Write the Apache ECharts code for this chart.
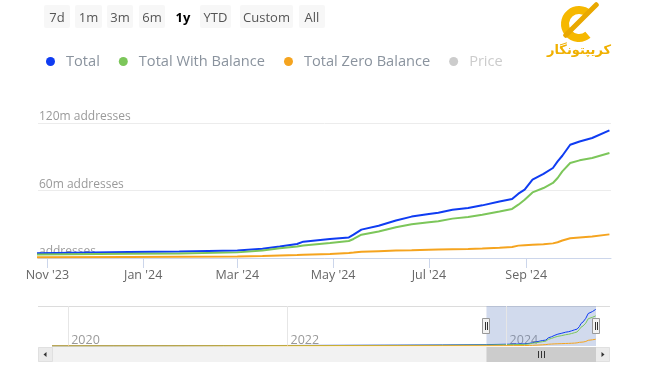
<!DOCTYPE html>
<html><head><meta charset="utf-8">
<script src="https://cdn.jsdelivr.net/npm/echarts@6/dist/echarts.min.js"></script>
<style>html,body{margin:0;padding:0;background:#fff}#c{width:650px;height:365px}</style>
</head><body><div id="c"></div>
<script>
// ---------- data ----------
const dates = [
  '2019-11-08','2020-06-01','2021-01-01','2021-06-01','2022-01-01','2022-06-01','2023-01-01','2023-06-01',
  '2023-10-25','2023-12-23','2024-01-24','2024-03-01','2024-03-17','2024-03-28','2024-04-08','2024-04-12',
  '2024-04-29','2024-05-11','2024-05-14','2024-05-19','2024-05-30','2024-06-10','2024-06-20','2024-07-01',
  '2024-07-07','2024-07-16','2024-07-26','2024-08-04','2024-08-15','2024-08-23','2024-08-27','2024-08-31',
  '2024-09-05','2024-09-12','2024-09-18','2024-09-21','2024-09-24','2024-09-29','2024-10-05','2024-10-13','2024-10-24'
];
const total = [
  0.3,0.5,0.8,1.1,1.6,2.1,2.7,3.3,
  4.3,5.3,5.8,6.7,8.3,10.3,12.4,14.5,
  16.9,18.3,20.7,25.2,28.7,33.4,36.8,39.1,
  40.3,42.9,44.4,46.8,50.3,52.4,57.2,60.7,
  69.6,74.7,80.0,85.9,90.9,100.7,103.6,106.7,113.4
];
const withBalance = [
  0.2,0.35,0.55,0.8,1.1,1.5,1.9,2.4,
  3.0,3.7,4.1,5.0,6.6,8.6,10.2,11.2,
  13.3,15.1,16.9,20.7,23.6,27.4,30.0,31.8,
  32.6,35.0,36.4,38.5,41.4,43.6,47.4,51.8,
  58.3,62.2,66.7,71.1,77.0,84.4,86.8,88.9,93.3
];
const zeroBalance = [
  0.1,0.12,0.15,0.2,0.3,0.4,0.5,0.6,
  0.7,0.9,1.1,1.4,1.8,2.2,2.6,2.8,
  3.6,4.4,4.8,5.5,6.1,6.6,6.9,7.3,
  7.5,7.8,8.1,8.5,9.1,9.8,11.0,11.4,
  11.8,12.3,13.0,14.0,15.5,17.6,18.3,19.2,21.0
];
const seriesNames = ['Total','Total With Balance','Total Zero Balance','Price'];
const xTickDates = ['2023-11-01','2024-01-01','2024-03-01','2024-05-01','2024-07-01','2024-09-01'];
const yTicks = [0,60,120];
const navYearTicks = ['2020-01-01','2022-01-01','2024-01-01'];
const rangeButtons = ['7d','1m','3m','6m','1y','YTD','Custom','All'];
const selectedRange = '1y';
const viewStart = '2023-10-26', viewEnd = '2024-10-25', navStart = '2019-11-08';

// ---------- helpers ----------
const ts = d => new Date(d + 'T00:00:00').getTime();
const pairs = arr => dates.map((d, i) => [ts(d), arr[i]]);
const MONTHS = ['Jan','Feb','Mar','Apr','May','Jun','Jul','Aug','Sep','Oct','Nov','Dec'];
const colors = {'Total':'#0f3cf2','Total With Balance':'#7cc65a','Total Zero Balance':'#f5a41f','Price':'#cccccc'};
const valuesByName = {'Total': total, 'Total With Balance': withBalance, 'Total Zero Balance': zeroBalance, 'Price': []};

// layout constants (UI only)
const FONT = 'Open Sans';
const btnLeft = [44,75,107,139,170,200,240,299];
const btnWidth = [26,27,26,26,26,31,53,26];
const BTN_TOP = 5, BTN_H = 23;
const NAV_TOP = 306, NAV_H = 40, SB_TOP = 347, SB_H = 15, SB_LEFT = 38, SB_RIGHT = 610;

const chart = echarts.init(document.getElementById('c'), null, {renderer: 'canvas'});

const mainSeries = seriesNames.map(n => ({
  name: n, type: 'line', xAxisIndex: 0, yAxisIndex: 0,
  data: valuesByName[n].length ? pairs(valuesByName[n]) : [],
  color: colors[n], showSymbol: false, symbol: 'none', clip: true,
  lineStyle: {width: 2}, z: 3
}));

const navSeries = seriesNames.slice(0, 3).map((n, i) => ({
  name: 'nav ' + n, type: 'line', xAxisIndex: 1, yAxisIndex: 1,
  data: pairs(valuesByName[n]), color: colors[n], showSymbol: false, symbol: 'none',
  lineStyle: {width: 1}, silent: true, z: 3 + i
}));
navSeries[0].markArea = {
  silent: true, itemStyle: {color: 'rgba(102,133,194,0.3)'},
  data: [[{xAxis: ts(viewStart)}, {xAxis: ts(viewEnd)}]]
};
navSeries[0].markLine = {
  silent: true, symbol: 'none', label: {show: false},
  lineStyle: {color: '#e6e6e6', width: 1, type: 'solid'},
  data: navYearTicks.map(d => ({xAxis: ts(d)}))
};

const option = {
  animation: false,
  textStyle: {fontFamily: FONT},
  legend: {
    data: seriesNames, left: 41, top: 49, icon: 'circle',
    itemWidth: 21, itemHeight: 9, itemGap: 19,
    selected: {'Price': false}, inactiveColor: '#cccccc',
    textStyle: {color: '#8a939e', fontSize: 14.6, fontFamily: FONT}
  },
  grid: [
    {left: 38, right: 39, top: 123, height: 135},
    {left: 52, right: 54, top: NAV_TOP, height: NAV_H}
  ],
  xAxis: [
    {
      type: 'value', gridIndex: 0, min: ts(viewStart), max: ts(viewEnd),
      axisLine: {lineStyle: {color: '#ccd6eb'}},
      axisTick: {show: true, length: 10, lineStyle: {color: '#ccd6eb'}, customValues: xTickDates.map(ts)},
      axisLabel: {
        customValues: xTickDates.map(ts), color: '#666', fontSize: 12.5, margin: 11, fontFamily: FONT,
        formatter: (v, i) => {
          const d = new Date(v);
          const t = MONTHS[d.getMonth()] + " '" + String(d.getFullYear()).slice(2);
          return i === 0 ? '\u2009' + t : t;
        }
      },
      splitLine: {show: false}
    },
    {
      type: 'value', gridIndex: 1, min: ts(navStart), max: ts(viewEnd),
      axisLine: {show: false}, axisTick: {show: false}, splitLine: {show: false},
      axisLabel: {
        customValues: navYearTicks.map(ts), inside: true, align: 'left', margin: 0, lineHeight: 12,
        padding: [0, 0, 0, 3], color: '#999', fontSize: 12.5, fontFamily: FONT,
        formatter: v => String(new Date(v).getFullYear())
      }
    }
  ],
  yAxis: [
    {
      type: 'value', gridIndex: 0, min: yTicks[0], max: yTicks[yTicks.length - 1], interval: yTicks[1] - yTicks[0],
      axisLine: {show: false}, axisTick: {show: false},
      splitLine: {lineStyle: {color: '#ececec'}},
      axisLabel: {
        inside: true, verticalAlign: 'bottom', margin: 1, lineHeight: 12,
        color: '#9a9a9a', fontSize: 12, fontFamily: FONT,
        formatter: v => v === 0 ? 'addresses' : v + 'm addresses'
      }
    },
    {type: 'value', gridIndex: 1, min: 0, max: 124, show: false}
  ],
  series: mainSeries.concat(navSeries)
};
chart.setOption(option);

// ---------- UI graphics (range buttons, navigator handles, scrollbar, logo) ----------
const g = [];
rangeButtons.forEach((b, i) => {
  const sel = b === selectedRange;
  if (!sel) g.push({type: 'rect', shape: {x: btnLeft[i], y: BTN_TOP, width: btnWidth[i], height: BTN_H, r: 2},
    style: {fill: '#f7f7f7'}, silent: true});
  g.push({type: 'text', x: btnLeft[i] + btnWidth[i] / 2, y: BTN_TOP + BTN_H / 2 + 1.5,
    style: {text: b, fill: sel ? '#000' : '#555', font: (sel ? 'bold ' : '') + '13px "' + FONT + '"',
      align: 'center', verticalAlign: 'middle'}, silent: true});
});
const x0 = chart.convertToPixel({xAxisIndex: 1}, ts(viewStart));
const x1 = chart.convertToPixel({xAxisIndex: 1}, ts(viewEnd));
g.push({type: 'line', shape: {x1: SB_LEFT, y1: NAV_TOP + 0.5, x2: SB_RIGHT, y2: NAV_TOP + 0.5}, style: {stroke: '#dcdcdc', lineWidth: 1}, silent: true});
g.push({type: 'rect', shape: {x: SB_LEFT, y: SB_TOP, width: SB_RIGHT - SB_LEFT, height: SB_H}, style: {fill: '#f2f2f2'}, silent: true});
g.push({type: 'rect', shape: {x: SB_LEFT + 0.5, y: SB_TOP + 0.5, width: 14, height: SB_H - 1}, style: {fill: '#ebebeb', stroke: '#e0e0e0'}, silent: true});
g.push({type: 'rect', shape: {x: SB_RIGHT - 14.5, y: SB_TOP + 0.5, width: 14, height: SB_H - 1}, style: {fill: '#ebebeb', stroke: '#e0e0e0'}, silent: true});
g.push({type: 'polygon', shape: {points: [[SB_LEFT + 8.5, SB_TOP + 5], [SB_LEFT + 8.5, SB_TOP + 10], [SB_LEFT + 5.5, SB_TOP + 7.5]]}, style: {fill: '#333'}, silent: true});
g.push({type: 'polygon', shape: {points: [[SB_RIGHT - 8.5, SB_TOP + 5], [SB_RIGHT - 8.5, SB_TOP + 10], [SB_RIGHT - 5.5, SB_TOP + 7.5]]}, style: {fill: '#333'}, silent: true});
g.push({type: 'rect', shape: {x: x0, y: SB_TOP, width: x1 - x0, height: SB_H}, style: {fill: '#cccccc'}, silent: true});
const cx = Math.round((x0 + x1) / 2);
[-3, 0, 3].forEach(d => g.push({type: 'line', shape: {x1: cx + d + 0.5, y1: SB_TOP + 4, x2: cx + d + 0.5, y2: SB_TOP + 11}, style: {stroke: '#333', lineWidth: 1}, silent: true}));
[x0, x1].forEach(hx => {
  const hxr = Math.round(hx);
  g.push({type: 'rect', shape: {x: hxr - 3.5, y: 318.5, width: 7, height: 15}, style: {fill: '#f2f2f2', stroke: '#999', lineWidth: 1}, silent: true, z: 10});
  [-1, 1].forEach(d => g.push({type: 'line', shape: {x1: hxr + d + 0.5, y1: 322, x2: hxr + d + 0.5, y2: 330}, style: {stroke: '#333', lineWidth: 1}, silent: true, z: 11}));
});
// logo
g.push({type: 'arc', shape: {cx: 579, cy: 24, r: 14, startAngle: Math.PI * 0.28, endAngle: Math.PI * 1.74, clockwise: true},
  style: {stroke: '#f6b800', lineWidth: 8, fill: null}, silent: true});
g.push({type: 'rect', shape: {x: -2.5, y: -24, width: 5, height: 48, r: 2}, x: 581, y: 20, rotation: -Math.PI / 4,
  style: {fill: '#e9a800'}, silent: true});
g.push({type: 'text', x: 579, y: 51, style: {text: 'کریپتونگار', fill: '#f0b000', font: 'bold 13px "DejaVu Sans"', align: 'center', verticalAlign: 'middle'}, silent: true});
chart.setOption({graphic: g});
</script>
</body></html>
